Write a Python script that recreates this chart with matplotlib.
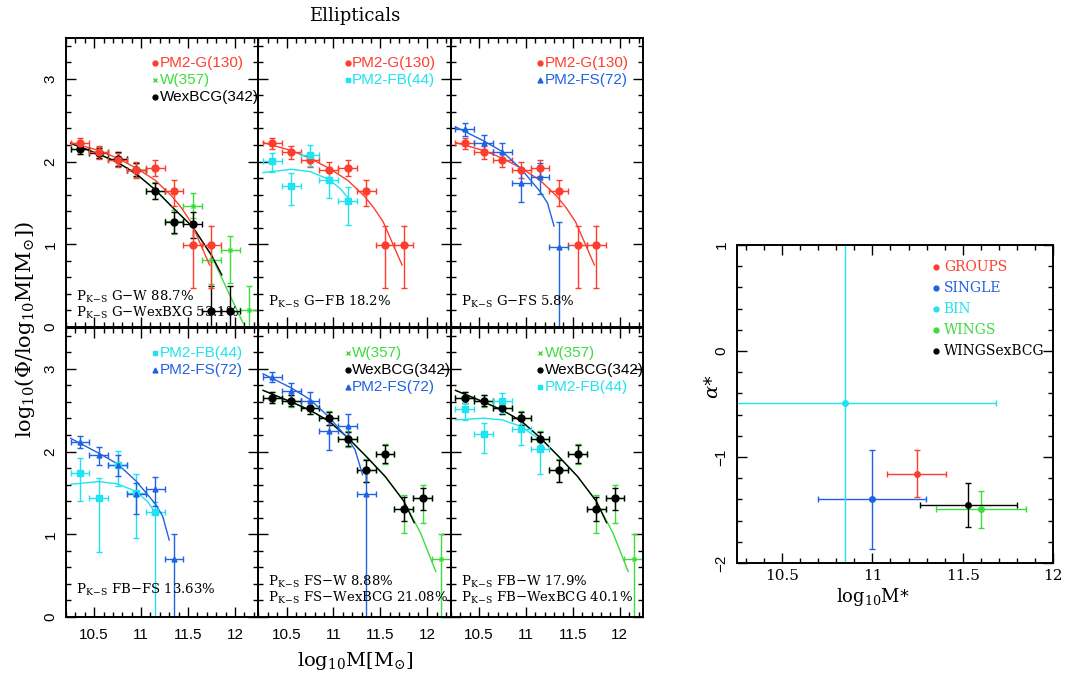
import matplotlib
matplotlib.use('Agg')
import matplotlib.pyplot as plt
from matplotlib.ticker import MultipleLocator, FuncFormatter

plt.rcParams['mathtext.fontset'] = 'dejavuserif'

RED = '#ff3d2e'
GREEN = '#3ddc3d'
CYAN = '#1fe3f0'
BLUE = '#2062e6'
BLACK = 'black'
SANS = 'Liberation Sans'
SERIF = 'DejaVu Serif'

# mass bins (centres) shared by all luminosity-function panels
mass_bins = [10.35, 10.55, 10.75, 10.95, 11.15, 11.35, 11.55, 11.75, 11.95, 12.15]
bin_halfwidth = 0.1

# ---- top row ----
g_top = [2.22, 2.11, 2.02, 1.90, 1.92, 1.645, 0.99, 0.99]
g_top_up = [0.07, 0.075, 0.08, 0.1, 0.1, 0.13, 0.23, 0.23]
g_top_lo = [0.07, 0.075, 0.09, 0.1, 0.1, 0.18, 0.52, 0.52]

w_top = [2.153, 2.11, 2.03, 1.90, 1.65, 1.278, 1.468, 0.806, 0.935, 0.20]
w_top_up = [0.065, 0.065, 0.08, 0.085, 0.1, 0.14, 0.15, 0.17, 0.17, 0.30]
w_top_lo = [0.065, 0.065, 0.08, 0.085, 0.1, 0.15, 0.15, 0.29, 0.40, 3.0]

wex_top = [2.153, 2.10, 2.03, 1.90, 1.645, 1.274, 1.242, 0.194, 0.194]
wex_top_up = [0.06, 0.06, 0.08, 0.08, 0.1, 0.12, 0.15, 0.30, 0.30]
wex_top_lo = [0.06, 0.06, 0.08, 0.08, 0.1, 0.14, 0.17, 3.0, 3.0]

fb_top = [2.008, 1.706, 2.08, 1.778, 1.528]
fb_top_up = [0.10, 0.15, 0.12, 0.16, 0.17]
fb_top_lo = [0.14, 0.23, 0.13, 0.22, 0.30]

fs_top = [2.39, 2.23, 2.113, 1.746, 1.81, 0.964]
fs_top_up = [0.08, 0.09, 0.11, 0.15, 0.17, 0.30]
fs_top_lo = [0.08, 0.09, 0.11, 0.23, 0.20, 3.0]

# ---- bottom row ----
fb_p4 = [1.738, 1.435, 1.839, 1.504, 1.266]
fb_p4_up = [0.19, 0.25, 0.17, 0.23, 0.13]
fb_p4_lo = [0.34, 0.65, 0.26, 0.55, 3.0]

fs_p4 = [2.113, 1.96, 1.839, 1.49, 1.548, 0.70]
fs_p4_up = [0.075, 0.09, 0.12, 0.13, 0.14, 0.30]
fs_p4_lo = [0.075, 0.12, 0.13, 0.24, 0.21, 3.0]

w_bot = [2.653, 2.613, 2.532, 2.403, 2.153, 1.778, 1.968, 1.306, 1.435, 0.70]
w_bot_up = [0.07, 0.07, 0.08, 0.085, 0.09, 0.13, 0.12, 0.17, 0.16, 0.30]
w_bot_lo = [0.07, 0.07, 0.08, 0.085, 0.10, 0.15, 0.12, 0.29, 0.30, 3.0]

wex_bot = [2.653, 2.613, 2.532, 2.403, 2.153, 1.778, 1.968, 1.306, 1.435]
wex_bot_up = [0.065, 0.065, 0.075, 0.08, 0.08, 0.12, 0.11, 0.15, 0.12]
wex_bot_lo = [0.065, 0.065, 0.075, 0.08, 0.09, 0.14, 0.11, 0.15, 0.14]

fs_p5 = [2.90, 2.734, 2.613, 2.254, 2.31, 1.484]
fs_p5_up = [0.06, 0.095, 0.11, 0.13, 0.14, 0.30]
fs_p5_lo = [0.06, 0.095, 0.11, 0.23, 0.20, 3.0]

fb_p6 = [2.512, 2.21, 2.613, 2.274, 2.028]
fb_p6_up = [0.07, 0.14, 0.10, 0.11, 0.15]
fb_p6_lo = [0.13, 0.23, 0.15, 0.20, 0.30]

# ---- fitted curves ----
g_fit_x = [10.25, 10.55, 10.75, 10.95, 11.15, 11.33, 11.43, 11.53, 11.63, 11.73]
g_fit_y = [2.23, 2.133, 2.04, 1.92, 1.775, 1.58, 1.44, 1.27, 1.01, 0.75]
w_fit_top_x = [10.25, 10.55, 10.75, 10.95, 11.15, 11.35, 11.55, 11.75, 11.91, 12.09]
w_fit_top_y = [2.22, 2.09, 1.99, 1.85, 1.66, 1.43, 1.21, 0.86, 0.47, 0.04]
wex_fit_top_x = [10.25, 10.55, 10.75, 10.95, 11.15, 11.35, 11.55, 11.75, 11.86]
wex_fit_top_y = [2.22, 2.09, 1.99, 1.85, 1.66, 1.43, 1.21, 0.87, 0.63]
fb_fit_top_x = [10.25, 10.55, 10.75, 10.95, 11.08, 11.17]
fb_fit_top_y = [1.867, 1.907, 1.879, 1.786, 1.665, 1.536]
fs_fit_top_x = [10.25, 10.55, 10.75, 10.95, 11.15, 11.23, 11.30]
fs_fit_top_y = [2.42, 2.25, 2.12, 1.91, 1.64, 1.50, 1.22]

fb_fit_p4_x = [10.25, 10.55, 10.75, 10.95, 11.07, 11.16]
fb_fit_p4_y = [1.605, 1.637, 1.609, 1.516, 1.395, 1.246]
fs_fit_p4_x = [10.25, 10.55, 10.75, 10.95, 11.15, 11.23, 11.30]
fs_fit_p4_y = [2.16, 1.98, 1.85, 1.64, 1.37, 1.22, 0.93]
w_fit_bot_x = [10.25, 10.55, 10.75, 10.95, 11.15, 11.35, 11.55, 11.75, 11.93, 12.09]
w_fit_bot_y = [2.74, 2.60, 2.50, 2.37, 2.17, 1.94, 1.70, 1.40, 1.01, 0.55]
wex_fit_bot_x = [10.25, 10.55, 10.75, 10.95, 11.15, 11.35, 11.55, 11.75, 11.86]
wex_fit_bot_y = [2.74, 2.60, 2.50, 2.37, 2.17, 1.94, 1.70, 1.40, 1.14]
fs_fit_p5_x = [10.25, 10.55, 10.75, 10.95, 11.15, 11.23, 11.31]
fs_fit_p5_y = [2.94, 2.77, 2.63, 2.42, 2.16, 2.02, 1.72]
fb_fit_p6_x = [10.25, 10.55, 10.75, 10.95, 11.13, 11.20]
fb_fit_p6_y = [2.383, 2.403, 2.383, 2.302, 2.161, 2.04]

# ---- right panel: Schechter parameters ----
sample_names = ['GROUPS', 'SINGLE', 'BIN', 'WINGS', 'WINGSexBCG']
sample_colors = [RED, BLUE, CYAN, GREEN, BLACK]
mstar = [11.246, 10.996, 10.847, 11.603, 11.532]
mstar_err = [0.163, 0.30, 0.84, 0.25, 0.267]
alpha = [-1.157, -1.40, -0.49, -1.494, -1.453]
alpha_err_up = [0.22, 0.47, 3.0, 0.17, 0.205]
alpha_err_lo = [0.22, 0.47, 3.0, 0.18, 0.205]

style = {
    'G': (RED, 'o', 5), 'W': (GREEN, 'x', 3.5), 'WexBCG': (BLACK, 'o', 5),
    'FB': (CYAN, 's', 4), 'FS': (BLUE, '^', 3.5),
}
labels = {'G': 'PM2-G(130)', 'W': 'W(357)', 'WexBCG': 'WexBCG(342)',
          'FB': 'PM2-FB(44)', 'FS': 'PM2-FS(72)'}


def ks(txt):
    return r'P$_{\rm K\!-\!S}$ ' + txt


panels = [
    {'samples': [('W', w_top, w_top_up, w_top_lo, w_fit_top_x, w_fit_top_y),
                 ('WexBCG', wex_top, wex_top_up, wex_top_lo, wex_fit_top_x, wex_fit_top_y),
                 ('G', g_top, g_top_up, g_top_lo, g_fit_x, g_fit_y)],
     'legend': ['G', 'W', 'WexBCG'],
     'ks': [ks('G$-$W 88.7%'), ks('G$-$WexBXG 53.1%')], 'ks_y': [0.366, 0.17]},
    {'samples': [('G', g_top, g_top_up, g_top_lo, g_fit_x, g_fit_y),
                 ('FB', fb_top, fb_top_up, fb_top_lo, fb_fit_top_x, fb_fit_top_y)],
     'legend': ['G', 'FB'],
     'ks': [ks('G$-$FB 18.2%')], 'ks_y': [0.306]},
    {'samples': [('G', g_top, g_top_up, g_top_lo, g_fit_x, g_fit_y),
                 ('FS', fs_top, fs_top_up, fs_top_lo, fs_fit_top_x, fs_fit_top_y)],
     'legend': ['G', 'FS'],
     'ks': [ks('G$-$FS 5.8%')], 'ks_y': [0.306]},
    {'samples': [('FB', fb_p4, fb_p4_up, fb_p4_lo, fb_fit_p4_x, fb_fit_p4_y),
                 ('FS', fs_p4, fs_p4_up, fs_p4_lo, fs_fit_p4_x, fs_fit_p4_y)],
     'legend': ['FB', 'FS'],
     'ks': [ks('FB$-$FS 13.63%')], 'ks_y': [0.326]},
    {'samples': [('W', w_bot, w_bot_up, w_bot_lo, w_fit_bot_x, w_fit_bot_y),
                 ('WexBCG', wex_bot, wex_bot_up, wex_bot_lo, wex_fit_bot_x, wex_fit_bot_y),
                 ('FS', fs_p5, fs_p5_up, fs_p5_lo, fs_fit_p5_x, fs_fit_p5_y)],
     'legend': ['W', 'WexBCG', 'FS'],
     'ks': [ks('FS$-$W 8.88%'), ks('FS$-$WexBCG 21.08%')], 'ks_y': [0.425, 0.225]},
    {'samples': [('W', w_bot, w_bot_up, w_bot_lo, w_fit_bot_x, w_fit_bot_y),
                 ('WexBCG', wex_bot, wex_bot_up, wex_bot_lo, wex_fit_bot_x, wex_fit_bot_y),
                 ('FB', fb_p6, fb_p6_up, fb_p6_lo, fb_fit_p6_x, fb_fit_p6_y)],
     'legend': ['W', 'WexBCG', 'FB'],
     'ks': [ks('FB$-$W 17.9%'), ks('FB$-$WexBCG 40.1%')], 'ks_y': [0.427, 0.225]},
]


def style_axis(ax, xmaj, xmin, ymaj, ymin):
    ax.xaxis.set_major_locator(MultipleLocator(xmaj))
    ax.xaxis.set_minor_locator(MultipleLocator(xmin))
    ax.yaxis.set_major_locator(MultipleLocator(ymaj))
    ax.yaxis.set_minor_locator(MultipleLocator(ymin))
    ax.tick_params(which='both', direction='in', top=True, right=True, width=1.0)
    ax.tick_params(which='major', length=7)
    ax.tick_params(which='minor', length=3.5)
    for s in ax.spines.values():
        s.set_linewidth(1.4)
    ax.set_facecolor('none')


fig = plt.figure(figsize=(10.65, 6.75), dpi=100)

left0 = 66 / 1065
pw = 192.4 / 1065
ph = 289.5 / 675
row_bottoms = [1 - 327 / 675, 1 - 617 / 675]

for i, p in enumerate(panels):
    row, col = divmod(i, 3)
    ax = fig.add_axes([left0 + col * pw, row_bottoms[row], pw, ph])
    for key, vals, up, lo, fx, fy in p['samples']:
        color, marker, ms = style[key]
        ax.plot(fx, fy, color=color, lw=1.0)
        ax.errorbar(mass_bins[:len(vals)], vals, xerr=bin_halfwidth, yerr=[lo, up],
                    fmt=marker, color=color, ms=ms, mew=1.0, elinewidth=1.0,
                    capsize=2.5, capthick=1.0)
    for j, key in enumerate(p['legend']):
        color, marker, ms = style[key]
        y = 3.19 - j * 0.205
        ax.plot([11.153], [y], marker=marker, color=color, ms=3.5, mew=1.0,
                ls='none', clip_on=False)
        ax.text(11.198, y, labels[key], color=color, fontsize=11, family=SANS,
                ha='left', va='center', clip_on=False)
    for txt, y in zip(p['ks'], p['ks_y']):
        ax.text(10.306, y, txt, fontsize=9.5, family=SERIF, ha='left',
                va='center', clip_on=False)
    ax.set_xlim(10.2, 12.25)
    ax.set_ylim(0, 3.5)
    style_axis(ax, 0.5, 0.1, 1, 0.2)
    ax.xaxis.set_major_formatter(FuncFormatter(lambda v, pos: '%g' % v))
    if row == 0:
        ax.tick_params(axis='x', labelbottom=False)
    else:
        for lab in ax.get_xticklabels():
            lab.set_family(SANS)
            lab.set_fontsize(11)
        ax.tick_params(axis='x', pad=8)
    if col == 0:
        ax.tick_params(axis='y', labelrotation=90, pad=6)
        for lab in ax.get_yticklabels():
            lab.set_family(SANS)
            lab.set_fontsize(11)
            lab.set_va('center')
    else:
        ax.tick_params(axis='y', labelleft=False)

fig.text(355 / 1065, 1 - 16 / 675, 'Ellipticals', family=SERIF, fontsize=13,
         ha='center', va='center')
fig.text(355 / 1065, 1 - 661 / 675, r'$\mathrm{log_{10}M[M_{\odot}]}$',
         fontsize=14, ha='center', va='center')
fig.text(25 / 1065, 1 - 330 / 675, r'$\mathrm{log_{10}(\Phi/log_{10}M[M_{\odot}])}$',
         fontsize=15, ha='center', va='center', rotation=90)

# right panel: alpha* vs M*
axr = fig.add_axes([737 / 1065, 1 - 563 / 675, 316 / 1065, 318 / 675])
for name, c, m, me, a, au, al in zip(sample_names, sample_colors, mstar, mstar_err,
                                     alpha, alpha_err_up, alpha_err_lo):
    axr.errorbar([m], [a], xerr=[me], yerr=[[al], [au]], fmt='o', color=c, ms=4,
                 elinewidth=1.0, capsize=2.5, capthick=1.0)
for j, (name, c) in enumerate(zip(sample_names, sample_colors)):
    y = 0.795 - j * 0.198
    axr.plot([11.35], [y], 'o', color=c, ms=3.5)
    axr.text(11.395, y, name, color=c, family=SERIF, fontsize=10,
             ha='left', va='center')
axr.set_xlim(10.25, 12)
axr.set_ylim(-2, 1)
style_axis(axr, 0.5, 0.1, 1, 0.2)
axr.xaxis.set_major_formatter(FuncFormatter(lambda v, pos: '%g' % v))
for lab in axr.get_xticklabels():
    lab.set_family(SERIF)
    lab.set_fontsize(11)
axr.tick_params(axis='x', pad=4)
axr.tick_params(axis='y', labelrotation=90, pad=6)
for lab in axr.get_yticklabels():
    lab.set_family(SANS)
    lab.set_fontsize(11)
    lab.set_va('center')
fig.text(873 / 1065, 1 - 597 / 675, r'$\mathrm{log_{10}M}$*', fontsize=13,
         ha='center', va='center')
fig.text(713 / 1065, 1 - 387 / 675, r'$\alpha$*', fontsize=14, ha='center',
         va='center', rotation=90)

fig.savefig('out.png', dpi=100)
